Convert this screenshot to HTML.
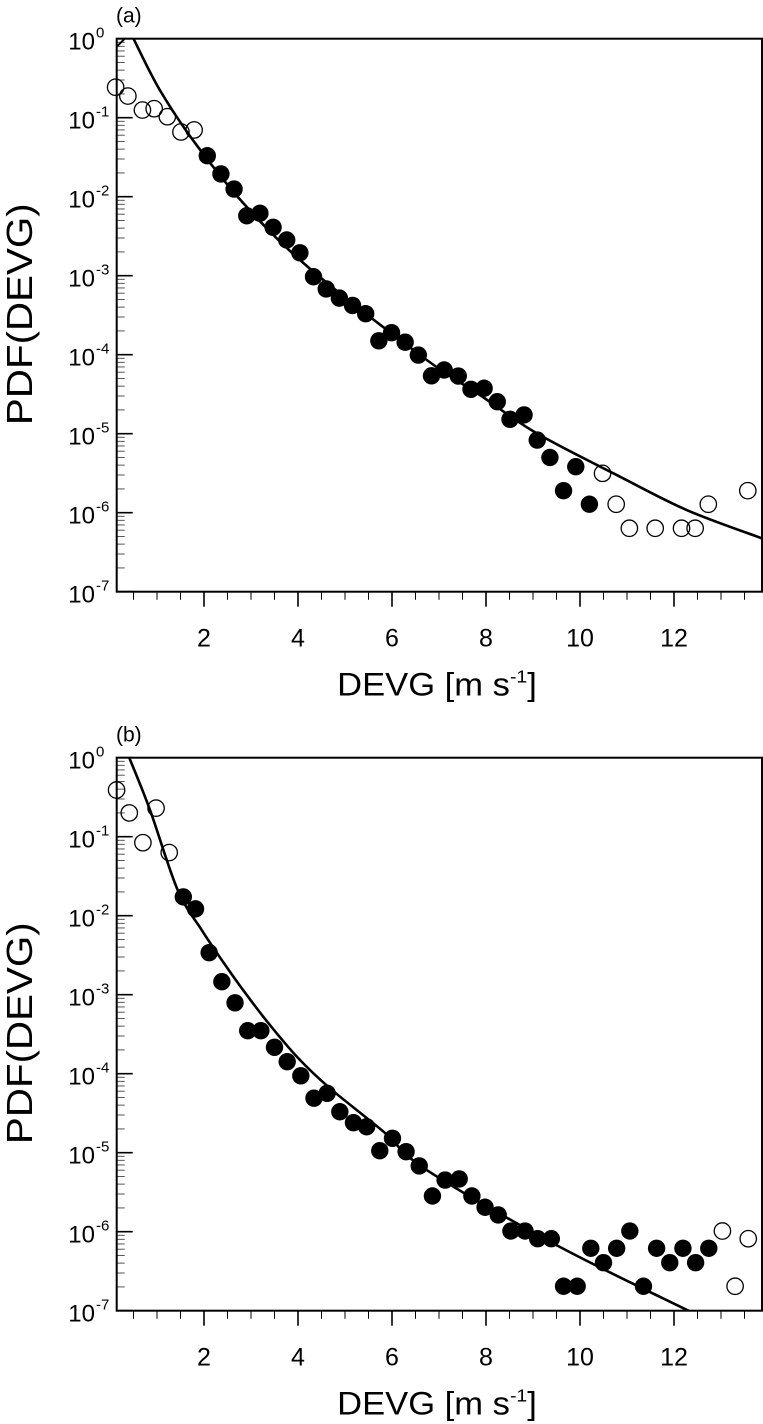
<!DOCTYPE html>
<html><head><meta charset="utf-8"><style>
html,body{margin:0;padding:0;background:#fff;}
svg{display:block;font-family:"Liberation Sans",Arial,sans-serif;}
</style></head><body>
<svg id="chart" width="763" height="1424" viewBox="0 0 763 1424" xmlns="http://www.w3.org/2000/svg"></svg>
<script>
// ---- Panel (a) data ----
const aOpenX = [0.12,0.38,0.69,0.94,1.22,1.51,1.79,10.48,10.77,11.05,11.60,12.16,12.45,12.73,13.57];
const aOpenY = [0.243,0.188,0.125,0.13,0.103,0.066,0.070,3.15e-6,1.28e-6,6.35e-7,6.35e-7,6.35e-7,6.35e-7,1.28e-6,1.9e-6];
const aFillX = [2.07,2.36,2.64,2.91,3.19,3.47,3.76,4.04,4.33,4.60,4.88,5.16,5.44,5.72,5.99,6.28,6.56,6.84,7.11,7.41,7.68,7.96,8.24,8.51,8.81,9.09,9.36,9.65,9.91,10.20];
const aFillY = [0.033,0.0194,0.0125,0.00574,0.00617,0.0041,0.00283,0.00195,9.7e-4,6.8e-4,5.2e-4,4.2e-4,3.3e-4,1.5e-4,1.9e-4,1.44e-4,9.9e-5,5.4e-5,6.4e-5,5.37e-5,3.65e-5,3.76e-5,2.54e-5,1.52e-5,1.73e-5,8.3e-6,5.0e-6,1.9e-6,3.82e-6,1.28e-6];
const aFitX = [0.50,1.06,1.84,2.94,4.33,6.74,7.87,9.08,10.85,12.27,13.87];
const aFitLog = [0,-0.65,-1.345,-2.15,-2.95,-4.067,-4.51,-4.995,-5.544,-5.966,-6.324];
// ---- Panel (b) data ----
const bOpenX = [0.14,0.41,0.70,0.98,1.26,13.03,13.30,13.58];
const bOpenY = [0.39,0.20,0.084,0.23,0.063,1.02e-6,2.04e-7,8.15e-7];
const bFillX = [1.56,1.82,2.11,2.38,2.66,2.93,3.21,3.50,3.77,4.06,4.34,4.62,4.89,5.18,5.46,5.74,6.01,6.30,6.58,6.86,7.13,7.43,7.70,7.98,8.26,8.53,8.83,9.10,9.39,9.65,9.94,10.23,10.50,10.78,11.06,11.35,11.63,11.91,12.19,12.46,12.74];
const bFillY = [0.0173,0.0122,3.4e-3,1.46e-3,7.9e-4,3.5e-4,3.5e-4,2.16e-4,1.42e-4,9.4e-5,4.9e-5,5.65e-5,3.3e-5,2.4e-5,2.13e-5,1.06e-5,1.52e-5,1.03e-5,6.8e-6,2.83e-6,4.5e-6,4.65e-6,2.83e-6,2.04e-6,1.63e-6,1.02e-6,1.02e-6,8.15e-7,8.15e-7,2.04e-7,2.04e-7,6.17e-7,4.05e-7,6.17e-7,1.02e-6,2.04e-7,6.17e-7,4.05e-7,6.17e-7,4.05e-7,6.17e-7];
const bFitX = [0.41,0.85,1.44,1.95,2.40,2.80,3.33,4.00,4.68,5.82,6.74,9.50,12.34];
const bFitLog = [0,-0.66,-1.675,-2.18,-2.58,-2.915,-3.33,-3.80,-4.185,-4.734,-5.22,-6.17,-7.01];
// ---- Axis tick labels ----
const xTickVals = [2,4,6,8,10,12];
const yDecades = [0,-1,-2,-3,-4,-5,-6,-7];

const NS = "http://www.w3.org/2000/svg";
const svg = document.getElementById('chart');
function mk(tag, attrs, parent){const e=document.createElementNS(NS,tag);for(const k in attrs)e.setAttribute(k,attrs[k]);(parent||svg).appendChild(e);return e;}

function panel(cfg){
  const L=116.7,R=762,T=cfg.top,B=cfg.top+553;
  const X0=110, XS=47, DEC=79;
  const sx=v=>X0+v*XS;
  const sy=v=>T-Math.log10(v)*DEC;
  const syl=l=>T-l*DEC;
  const g=mk('g',{});
  
  
  const cp=mk('clipPath',{id:'clip'+cfg.id},g);
  mk('rect',{x:L,y:T,width:R-L,height:B-T},cp);
  const yt=mk('g',{},g);
  
  
  for(const d of yDecades){
    const y=syl(d);
    mk('line',{x1:L,x2:L+16,y1:y,y2:y,stroke:'#000','stroke-width':1.6},yt);
    const t=mk('text',{x:95,y:y+11,'text-anchor':'end','font-size':24},yt);
    
    
    t.textContent='10';
    const s=mk('text',{x:96,y:y-1,'text-anchor':'start','font-size':15},yt);
    s.textContent=String(d);
    if(d>-7){for(let m=2;m<=9;m++){const ym=syl(d-1)-Math.log10(m)*DEC;mk('line',{x1:L,x2:L+8,y1:ym,y2:ym,stroke:'#555','stroke-width':1},yt);}}
  }
  const xt=mk('g',{},g);
  
  
  for(let v=0.5;v<=13.8;v+=0.5){
    const x=sx(v);const major=xTickVals.includes(v);
    mk('line',{x1:x,x2:x,y1:B,y2:B+(major?15:8),stroke:'#000','stroke-width':major?1.6:1},xt);
  }
  for(const v of xTickVals){
    const t=mk('text',{x:sx(v),y:B+55,'text-anchor':'middle','font-size':25},xt);
    
    
    t.textContent=String(v);
  }
  const pts=cfg.fitX.map((x,i)=>[sx(x),syl(cfg.fitLog[i])]);
  let d='M'+pts[0][0]+','+pts[0][1];
  for(let i=0;i<pts.length-1;i++){
    const p0=pts[Math.max(0,i-1)],p1=pts[i],p2=pts[i+1],p3=pts[Math.min(pts.length-1,i+2)];
    const c1=[p1[0]+(p2[0]-p0[0])/6,p1[1]+(p2[1]-p0[1])/6];
    const c2=[p2[0]-(p3[0]-p1[0])/6,p2[1]-(p3[1]-p1[1])/6];
    d+=` C${c1[0]},${c1[1]} ${c2[0]},${c2[1]} ${p2[0]},${p2[1]}`;
  }
  const fit=mk('path',{d:d,fill:'none',stroke:'#000','stroke-width':2.6,'clip-path':`url(#clip${cfg.id})`},g);
  
  
  if(cfg.id==='a'){
    const seg=mk('line',{x1:L,y1:T+8,x2:L+8,y2:T,stroke:'#000','stroke-width':2},g);
    
    
  }
  cfg.fillX.forEach((x,i)=>{
    const c=mk('circle',{cx:sx(x),cy:sy(cfg.fillY[i]),r:8.7,fill:'#000'},g);
    
    
  });
  cfg.openX.forEach((x,i)=>{
    const c=mk('circle',{cx:sx(x),cy:sy(cfg.openY[i]),r:8.2,fill:'none',stroke:'#000','stroke-width':1.3},g);
    
    
  });
  const fr=mk('rect',{x:L,y:T,width:R-L,height:B-T,fill:'none',stroke:'#000','stroke-width':2},g);
  
  
  const pl=mk('text',{x:116,y:T-16,'font-size':21},g);
  
  
  pl.textContent=cfg.label;
  const xtit=mk('text',{x:0,y:0,'text-anchor':'middle','font-size':32,transform:`translate(437,${B+104}) scale(1.08,1)`},g);
  
  
  xtit.innerHTML='DEVG [m s<tspan font-size="18" dy="-13">-1</tspan><tspan dy="13">]</tspan>';
  const ytit=mk('text',{x:0,y:0,'text-anchor':'middle','font-size':36,transform:`translate(32,${(T+B)/2 - 1}) rotate(-90) scale(1.12,1)`},g);
  
  
  ytit.textContent='PDF(DEVG)';
}
panel({id:'a',name:'panel-a',label:'(a)',top:38.7,openX:aOpenX,openY:aOpenY,fillX:aFillX,fillY:aFillY,fitX:aFitX,fitLog:aFitLog});
panel({id:'b',name:'panel-b',label:'(b)',top:757.7,openX:bOpenX,openY:bOpenY,fillX:bFillX,fillY:bFillY,fitX:bFitX,fitLog:bFitLog});
</script>
</body></html>
